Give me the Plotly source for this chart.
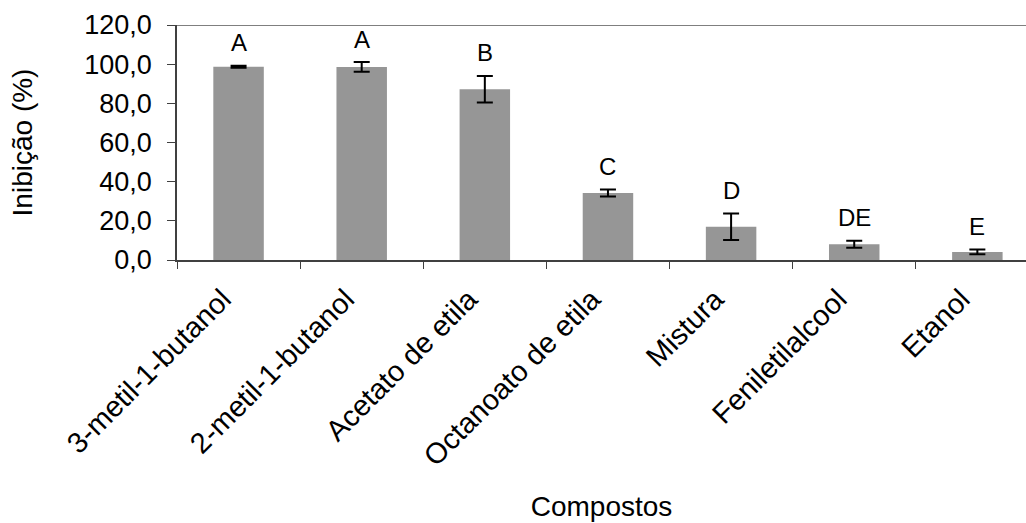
import plotly.graph_objects as go

categories = ["3-metil-1-butanol", "2-metil-1-butanol", "Acetato de etila",
              "Octanoato de etila", "Mistura", "Feniletilalcool", "Etanol"]
inhibition = [98.7, 98.6, 87.2, 34.2, 17.0, 8.0, 4.1]
errors = [0.5, 2.5, 6.8, 1.8, 6.8, 1.8, 1.2]
letters = ["A", "A", "B", "C", "D", "DE", "E"]
y_ticks = [0, 20, 40, 60, 80, 100, 120]

FONT = "Liberation Sans, Arial, sans-serif"

fig = go.Figure()
fig.add_trace(go.Bar(
    x=categories, y=inhibition,
    marker=dict(color="#969696", line=dict(width=0)),
    error_y=dict(type="data", array=errors, visible=True,
                 color="black", thickness=2, width=8),
    showlegend=False,
))

for cat, val, err, lab in zip(categories, inhibition, errors, letters):
    fig.add_annotation(x=cat, y=val + err, text=lab, showarrow=False,
                       yanchor="middle", yshift=23,
                       font=dict(family=FONT, size=24, color="black"))

# top border of plot area
fig.add_shape(type="line", xref="paper", yref="y", x0=0, x1=1, y0=120, y1=120,
              line=dict(color="black", width=1.2))

fig.update_layout(
    width=1026, height=523,
    margin=dict(l=177, r=0, t=25, b=263, autoexpand=False),
    plot_bgcolor="white", paper_bgcolor="white",
    bargap=0.59,
    separators=",.",
    font=dict(family=FONT, color="black"),
    xaxis=dict(
        type="category",
        range=[-0.5, 6.395],
        automargin=False,
        tickson="boundaries",
        ticks="outside", ticklen=7, tickcolor="#404040", tickwidth=1,
        showline=True, linecolor="#404040", linewidth=1.5,
        tickangle=-45,
        tickfont=dict(family=FONT, size=29, color="black"),
        ticklabelstandoff=9,
        ticklabelshift=-16,
        title=dict(text="Compostos", font=dict(family=FONT, size=28, color="black"),
                   standoff=25),
        showgrid=False, zeroline=False,
    ),
    yaxis=dict(
        range=[0, 120],
        automargin=False,
        tickvals=y_ticks,
        tickformat=".1f",
        ticks="outside", ticklen=8, tickcolor="#404040", tickwidth=1,
        showline=True, linecolor="#404040", linewidth=1.5,
        tickfont=dict(family=FONT, size=27, color="black"),
        ticklabelstandoff=10,
        title=dict(text="Inibição (%)", font=dict(family=FONT, size=28, color="black"),
                   standoff=43),
        showgrid=False, zeroline=False,
    ),
)

fig.write_html("out.html")
